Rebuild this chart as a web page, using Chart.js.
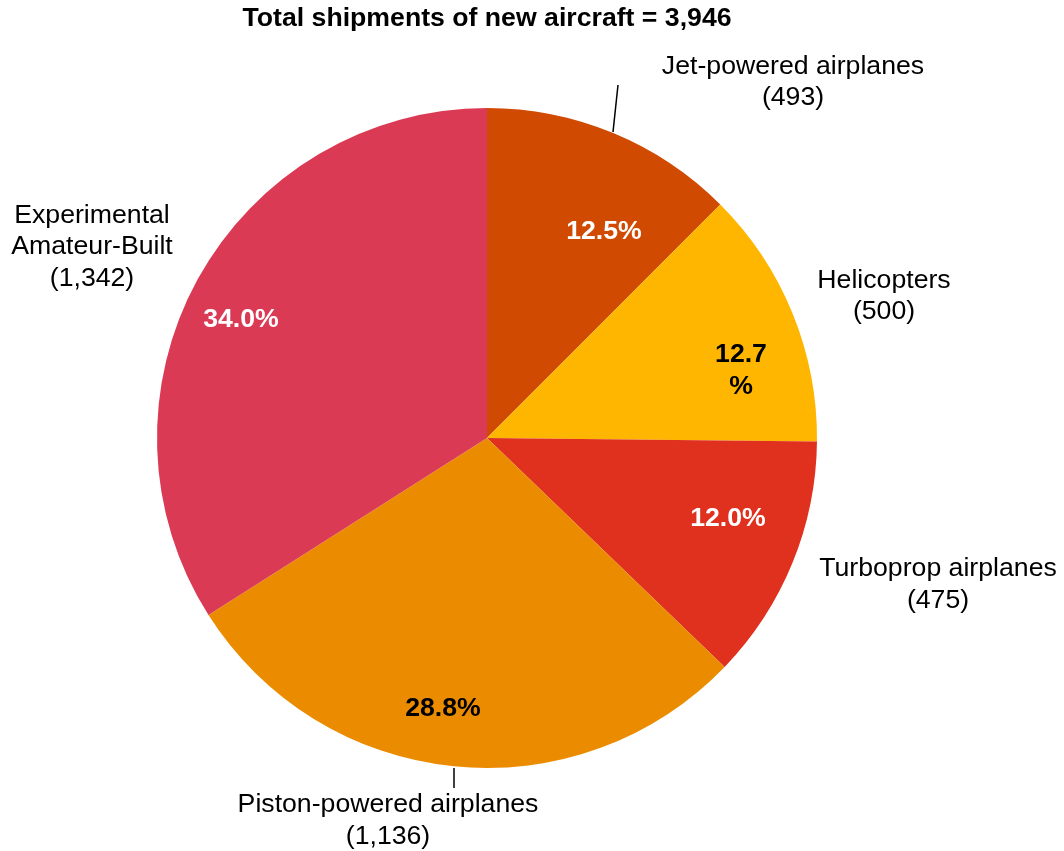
<!DOCTYPE html>
<html>
<head>
<meta charset="utf-8">
<script src="https://cdn.jsdelivr.net/npm/chart.js@4/dist/chart.umd.min.js"></script>
<style>
html,body{margin:0;padding:0;background:#fff;}
#wrap{width:1064px;height:851px;}
</style>
</head>
<body>
<div id="wrap"><canvas id="c" width="1064" height="851"></canvas></div>
<script>
const title = "Total shipments of new aircraft = 3,946";
const categories = ["Jet-powered airplanes", "Helicopters", "Turboprop airplanes", "Piston-powered airplanes", "Experimental Amateur-Built"];
const labelLines = [["Jet-powered airplanes"], ["Helicopters"], ["Turboprop airplanes"], ["Piston-powered airplanes"], ["Experimental", "Amateur-Built"]];
const shipments = [493, 500, 475, 1136, 1342];
const percentLabels = [["12.5%"], ["12.7", "%"], ["12.0%"], ["28.8%"], ["34.0%"]];

const colors = ["#D04A02", "#FFB600", "#E0301E", "#EB8C00", "#DB3A55"];
const pctColors = ["#ffffff", "#000000", "#ffffff", "#000000", "#ffffff"];
// label placement relative to pie centre (style, not data)
const pctPos = [[117, -206], [254, -67], [241, 81], [-44, 271], [-246, -118]];
const namePos = [[306, -356], [397, -142], [451, 146.5], [-99, 382.5], [-395, -191]];
const leaders = [[[126, -306], [131, -353]], null, null, [[-33, 330], [-33, 350]], null];

const FONT = "'Liberation Sans', Arial, sans-serif";
const FS = "26.67px ";

const labelPlugin = {
  id: 'labels',
  afterDraw(chart) {
    const ctx = chart.ctx;
    const meta = chart.getDatasetMeta(0);
    const cx = meta.data[0].x, cy = meta.data[0].y;
    ctx.save();
    ctx.textAlign = 'center';
    ctx.textBaseline = 'middle';
    // title
    ctx.fillStyle = '#000';
    ctx.font = "bold " + FS + FONT;
    ctx.fillText(title, cx, 19);
    const lh = 31.5;
    meta.data.forEach((arc, i) => {
      // percent
      ctx.font = "bold " + FS + FONT;
      ctx.fillStyle = pctColors[i];
      const pl = percentLabels[i];
      pl.forEach((t, k) => {
        ctx.fillText(t, cx + pctPos[i][0], cy + pctPos[i][1] + (k - (pl.length - 1) / 2) * 32);
      });
      // names with values
      ctx.font = FS + FONT;
      ctx.fillStyle = '#000';
      const lines = labelLines[i].concat(["(" + shipments[i].toLocaleString('en-US') + ")"]);
      lines.forEach((t, k) => {
        ctx.fillText(t, cx + namePos[i][0], cy + namePos[i][1] + (k - (lines.length - 1) / 2) * lh);
      });
      if (leaders[i]) {
        ctx.strokeStyle = '#000';
        ctx.lineWidth = 1.5;
        ctx.beginPath();
        ctx.moveTo(cx + leaders[i][0][0], cy + leaders[i][0][1]);
        ctx.lineTo(cx + leaders[i][1][0], cy + leaders[i][1][1]);
        ctx.stroke();
      }
    });
    ctx.restore();
  }
};

new Chart(document.getElementById('c'), {
  type: 'pie',
  data: {
    labels: categories,
    datasets: [{
      data: shipments,
      backgroundColor: colors,
      borderWidth: 0
    }]
  },
  options: {
    responsive: false,
    animation: false,
    layout: { padding: { top: 108, bottom: 83, left: 157, right: 247 } },
    plugins: {
      legend: { display: false },
      tooltip: { enabled: false }
    }
  },
  plugins: [labelPlugin]
});
</script>
</body>
</html>
